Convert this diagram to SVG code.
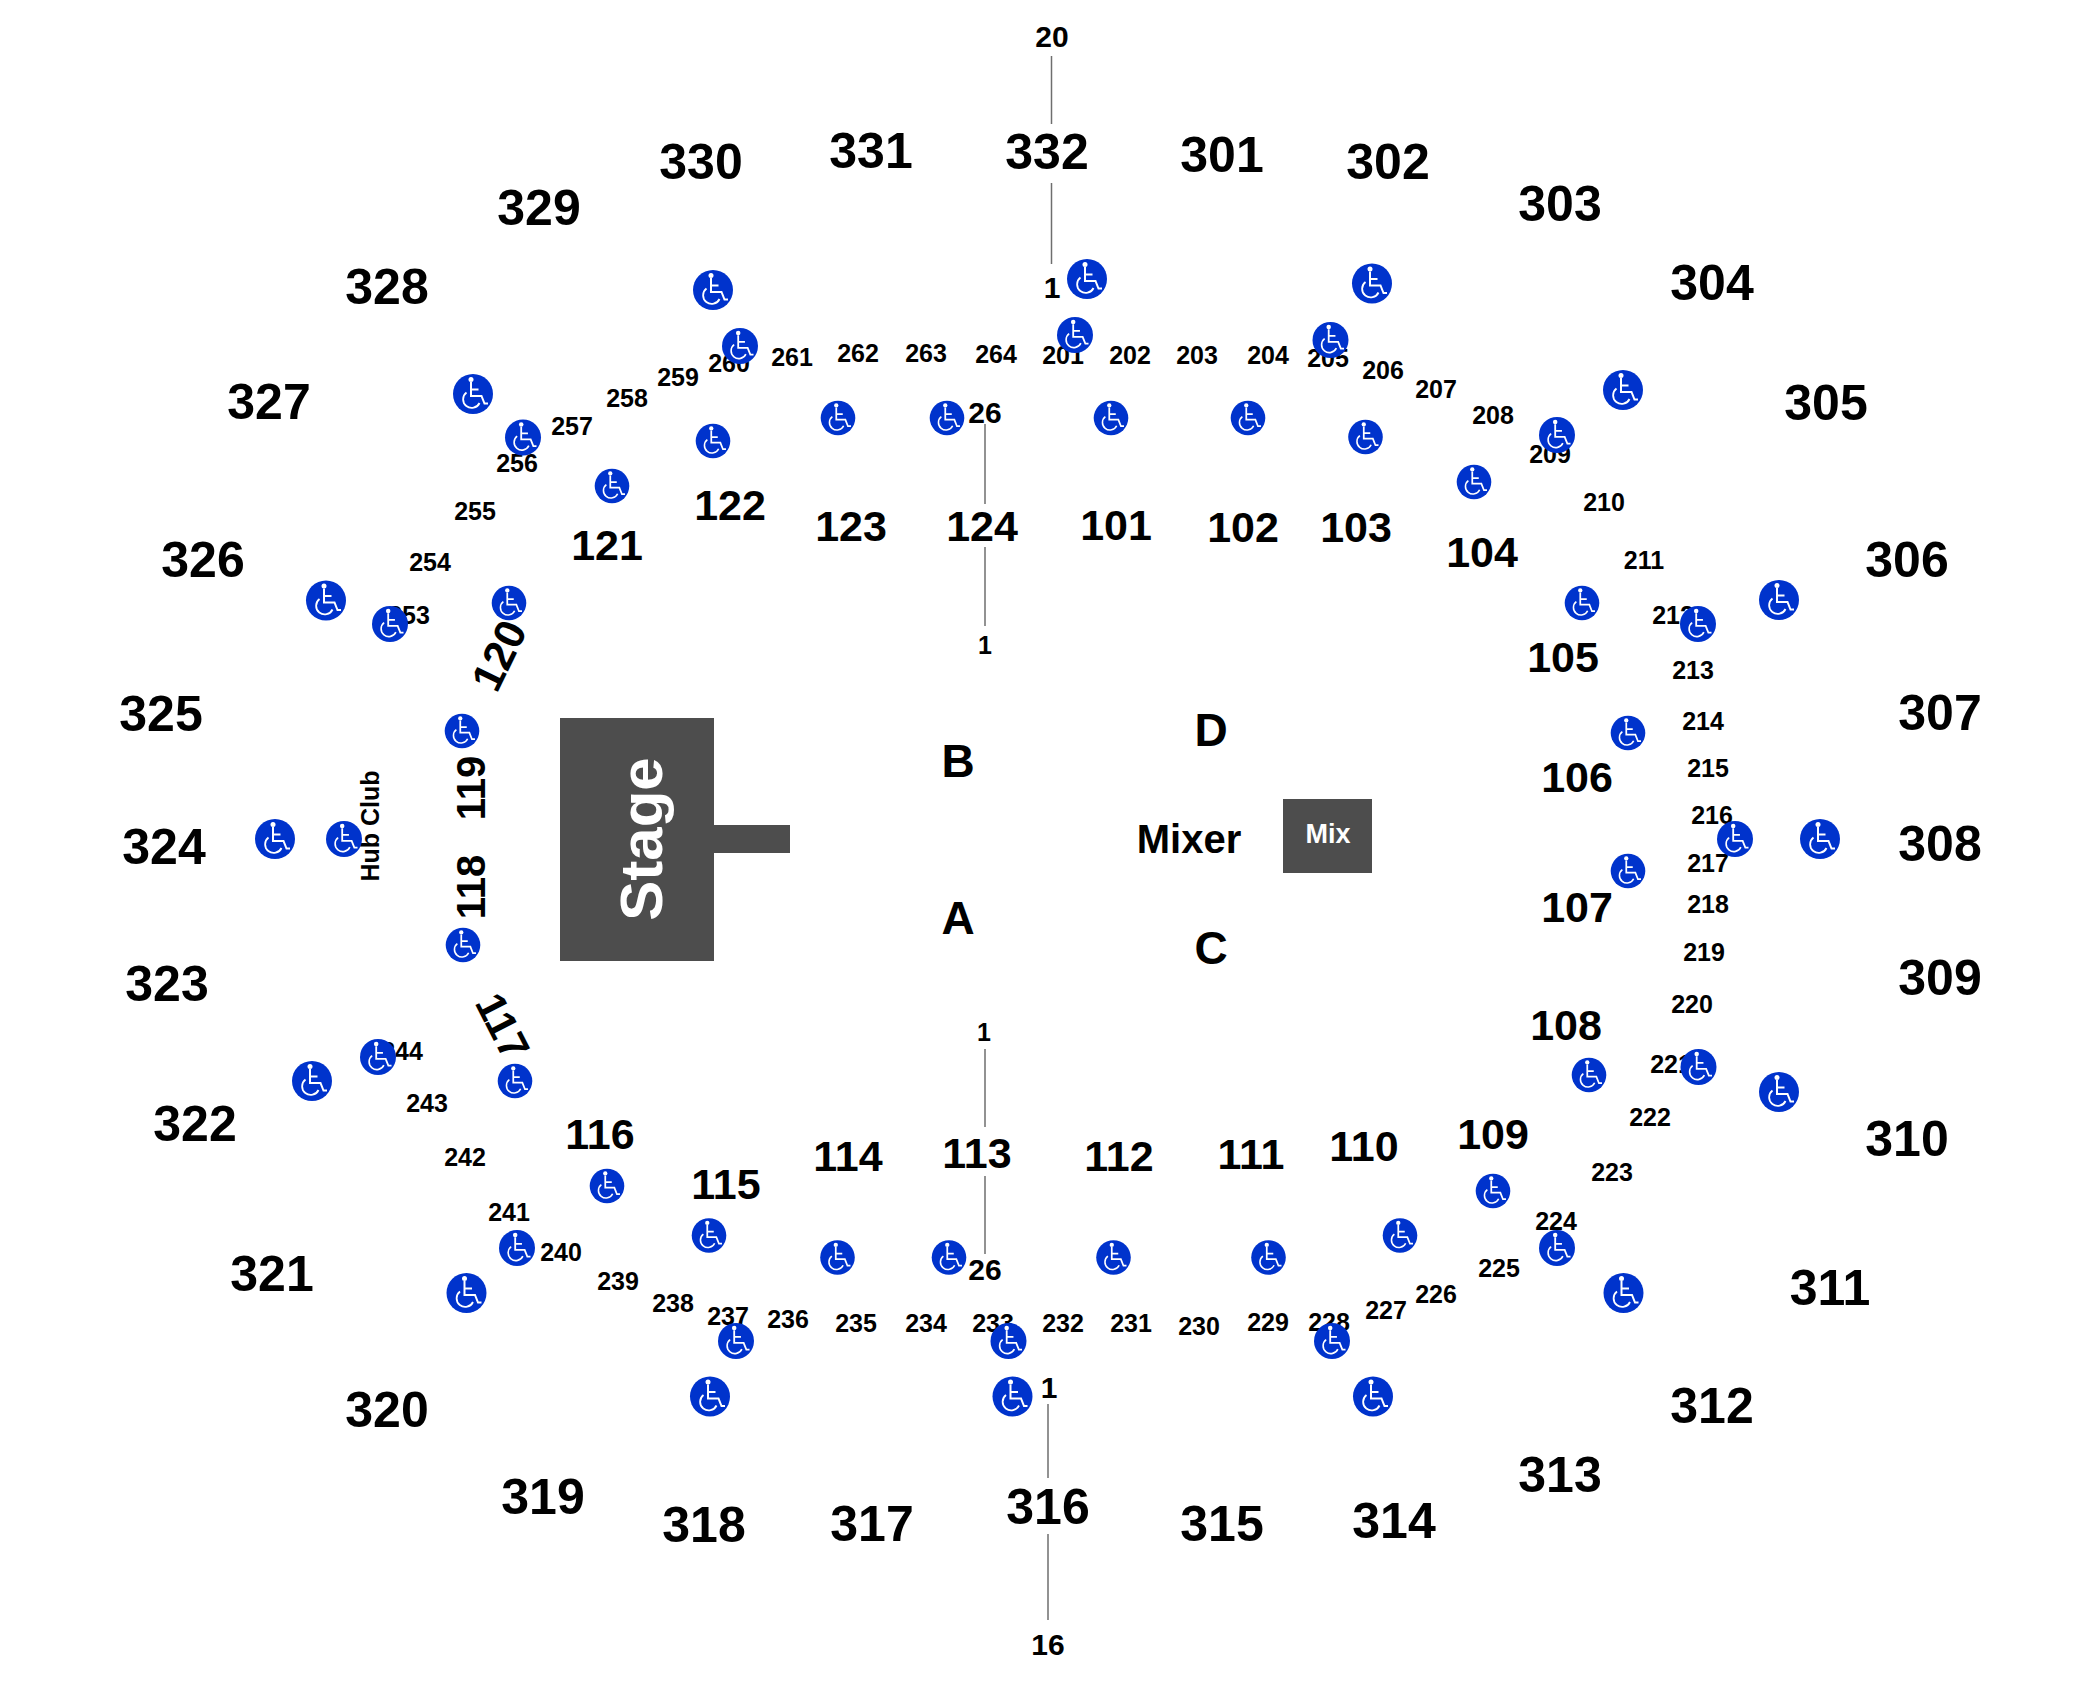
<svg xmlns="http://www.w3.org/2000/svg" xmlns:xlink="http://www.w3.org/1999/xlink" width="2100" height="1684" viewBox="0 0 2100 1684">
<style>
text{font-family:"Liberation Sans",Arial,sans-serif;font-weight:700;fill:#000;text-anchor:middle}
.u{font-size:50px}.s{font-size:43px}.l{font-size:46px}.c{font-size:25px}.r{font-size:30px}
line{stroke:#6e6e6e;stroke-width:1.5}
.d{fill:#4d4d4d}
</style>
<defs>
<g id="wc"><circle r="20" fill="#0033cc"/><circle cx="-2" cy="-14.5" r="2.5" fill="#fff"/><path d="M-2-12V2H8.5L11.5 9.5H15M-2-4.5H5.5" fill="none" stroke="#fff" stroke-width="2"/><path d="M-6.500-1.500A8.600 8.600 0 1 0 6.500 9" fill="none" stroke="#fff" stroke-width="1.800"/></g>
</defs>
<rect width="2100" height="1684" fill="#fff"/>
<g id="connectors">
<line x1="1051.5" y1="56" x2="1051.5" y2="124"/><line x1="1051.5" y1="183" x2="1051.5" y2="264"/>
<line x1="985" y1="424" x2="985" y2="504"/><line x1="985" y1="547" x2="985" y2="626"/>
<line x1="985" y1="1049" x2="985" y2="1127"/><line x1="985" y1="1176" x2="985" y2="1254"/>
<line x1="1048" y1="1404" x2="1048" y2="1478"/><line x1="1048" y1="1534" x2="1048" y2="1620"/>
</g>
<g id="stage"><rect class="d" x="560" y="718" width="154" height="243"/><rect class="d" x="714" y="825" width="76" height="28"/><text transform="translate(662 839) rotate(-90)" style="font-size:60px;fill:#fff">Stage</text></g>
<g id="mix"><rect class="d" x="1283" y="799" width="89" height="74"/><text x="1328" y="843" style="font-size:27px;fill:#fff">Mix</text></g>
<g id="upper-sections" transform="translate(0 -1)">
<text class="u" x="1047" y="170">332</text><text class="u" x="1222" y="173">301</text><text class="u" x="1388" y="180">302</text><text class="u" x="1560" y="222">303</text><text class="u" x="1712" y="301">304</text><text class="u" x="1826" y="421">305</text><text class="u" x="1907" y="578">306</text><text class="u" x="1940" y="731">307</text><text class="u" x="1940" y="862">308</text><text class="u" x="1940" y="996">309</text><text class="u" x="1907" y="1157">310</text><text class="u" x="1830" y="1306">311</text><text class="u" x="1712" y="1424">312</text><text class="u" x="1560" y="1493">313</text><text class="u" x="1394" y="1539">314</text><text class="u" x="1222" y="1542">315</text><text class="u" x="1048" y="1525">316</text><text class="u" x="872" y="1542">317</text><text class="u" x="704" y="1543">318</text><text class="u" x="543" y="1515">319</text><text class="u" x="387" y="1428">320</text><text class="u" x="272" y="1292">321</text><text class="u" x="195" y="1142">322</text><text class="u" x="167" y="1002">323</text><text class="u" x="164" y="865">324</text><text class="u" x="161" y="732">325</text><text class="u" x="203" y="578">326</text><text class="u" x="269" y="420">327</text><text class="u" x="387" y="305">328</text><text class="u" x="539" y="226">329</text><text class="u" x="701" y="180">330</text><text class="u" x="871" y="169">331</text>
</g>
<g id="lower-sections">
<text class="s" x="1116" y="540">101</text><text class="s" x="1243" y="542">102</text><text class="s" x="1356" y="542">103</text><text class="s" x="1482" y="567">104</text><text class="s" x="1563" y="672">105</text><text class="s" x="1577" y="792">106</text><text class="s" x="1577" y="922">107</text><text class="s" x="1566" y="1040">108</text><text class="s" x="1493" y="1149">109</text><text class="s" x="1364" y="1161">110</text><text class="s" x="1251" y="1169">111</text><text class="s" x="1119" y="1171">112</text><text class="s" x="977" y="1168">113</text><text class="s" x="848" y="1171">114</text><text class="s" x="726" y="1199">115</text><text class="s" x="600" y="1149">116</text>
<text transform="translate(503 1026) rotate(63)" y="15" style="font-size:42px">117</text><text transform="translate(470 887) rotate(-90)" y="15" style="font-size:40px">118</text><text transform="translate(470 788) rotate(-90)" y="15" style="font-size:40px">119</text><text transform="translate(498 655) rotate(-64)" y="16" style="font-size:43px">120</text>
<text class="s" x="607" y="560">121</text><text class="s" x="730" y="520">122</text><text class="s" x="851" y="541">123</text><text class="s" x="982" y="541">124</text>
</g>
<g id="club-sections" transform="translate(0 1)">
<text class="c" x="1063" y="363">201</text><text class="c" x="1130" y="363">202</text><text class="c" x="1197" y="363">203</text><text class="c" x="1268" y="363">204</text><text class="c" x="1328" y="366">205</text><text class="c" x="1383" y="378">206</text><text class="c" x="1436" y="397">207</text><text class="c" x="1493" y="423">208</text><text class="c" x="1550" y="462">209</text><text class="c" x="1604" y="510">210</text><text class="c" x="1644" y="568">211</text><text class="c" x="1673" y="623">212</text><text class="c" x="1693" y="678">213</text><text class="c" x="1703" y="729">214</text><text class="c" x="1708" y="776">215</text><text class="c" x="1712" y="823">216</text><text class="c" x="1708" y="871">217</text><text class="c" x="1708" y="912">218</text><text class="c" x="1704" y="960">219</text><text class="c" x="1692" y="1012">220</text><text class="c" x="1671" y="1072">221</text><text class="c" x="1650" y="1125">222</text><text class="c" x="1612" y="1180">223</text><text class="c" x="1556" y="1229">224</text><text class="c" x="1499" y="1276">225</text><text class="c" x="1436" y="1302">226</text><text class="c" x="1386" y="1318">227</text><text class="c" x="1329" y="1330">228</text><text class="c" x="1268" y="1330">229</text><text class="c" x="1199" y="1334">230</text><text class="c" x="1131" y="1331">231</text><text class="c" x="1063" y="1331">232</text><text class="c" x="993" y="1331">233</text><text class="c" x="926" y="1331">234</text><text class="c" x="856" y="1331">235</text><text class="c" x="788" y="1327">236</text><text class="c" x="728" y="1324">237</text><text class="c" x="673" y="1311">238</text><text class="c" x="618" y="1289">239</text><text class="c" x="561" y="1260">240</text><text class="c" x="509" y="1220">241</text><text class="c" x="465" y="1165">242</text><text class="c" x="427" y="1111">243</text><text class="c" x="402" y="1059">244</text><text class="c" x="409" y="623">253</text><text class="c" x="430" y="570">254</text><text class="c" x="475" y="519">255</text><text class="c" x="517" y="471">256</text><text class="c" x="572" y="434">257</text><text class="c" x="627" y="406">258</text><text class="c" x="678" y="385">259</text><text class="c" x="729" y="371">260</text><text class="c" x="792" y="365">261</text><text class="c" x="858" y="361">262</text><text class="c" x="926" y="361">263</text><text class="c" x="996" y="362">264</text>
</g>
<g id="row-labels">
<text class="r" x="1052" y="47">20</text><text class="r" x="1052" y="298">1</text><text class="r" x="985" y="423">26</text><text class="c" x="985" y="654">1</text><text class="c" x="984" y="1041">1</text><text class="r" x="985" y="1280">26</text><text class="r" x="1049" y="1398">1</text><text class="r" x="1048" y="1655">16</text>
</g>
<g id="floor-labels">
<text class="l" x="958" y="777">B</text><text class="l" x="958" y="934">A</text><text class="l" x="1211" y="746">D</text><text class="l" x="1211" y="964">C</text><text x="1189" y="853" style="font-size:40px">Mixer</text><text transform="translate(379 826) rotate(-90)" style="font-size:25px">Hub Club</text>
</g>
<g id="accessible-upper">
<use href="#wc" x="1087" y="279"/><use href="#wc" x="1372" y="283.500"/><use href="#wc" x="1623" y="390"/><use href="#wc" x="1779" y="600"/><use href="#wc" x="1820" y="839"/><use href="#wc" x="1779" y="1092"/><use href="#wc" x="1623.500" y="1293"/><use href="#wc" x="1373" y="1396.500"/><use href="#wc" x="1012.500" y="1396.500"/><use href="#wc" x="710" y="1396.500"/><use href="#wc" x="466.500" y="1293"/><use href="#wc" x="312" y="1081"/><use href="#wc" x="275" y="839"/><use href="#wc" x="326" y="600.500"/><use href="#wc" x="473" y="394"/><use href="#wc" x="713" y="290"/>
</g>
<g id="accessible-club">
<use href="#wc" transform="translate(1075 335) scale(.9)"/><use href="#wc" transform="translate(1330.500 340) scale(.9)"/><use href="#wc" transform="translate(1557 435) scale(.9)"/><use href="#wc" transform="translate(1698 624) scale(.9)"/><use href="#wc" transform="translate(1735 839) scale(.9)"/><use href="#wc" transform="translate(1698.500 1067) scale(.9)"/><use href="#wc" transform="translate(1557 1248) scale(.9)"/><use href="#wc" transform="translate(1332 1341) scale(.9)"/><use href="#wc" transform="translate(1008.500 1341) scale(.9)"/><use href="#wc" transform="translate(736 1341) scale(.9)"/><use href="#wc" transform="translate(517 1248) scale(.9)"/><use href="#wc" transform="translate(378 1057) scale(.9)"/><use href="#wc" transform="translate(344 839) scale(.9)"/><use href="#wc" transform="translate(390 624) scale(.9)"/><use href="#wc" transform="translate(523 437.500) scale(.9)"/><use href="#wc" transform="translate(740 346) scale(.9)"/>
</g>
<g id="accessible-lower">
<use href="#wc" transform="translate(713 441) scale(.865)"/><use href="#wc" transform="translate(838 418) scale(.865)"/><use href="#wc" transform="translate(947 418) scale(.865)"/><use href="#wc" transform="translate(1111 418) scale(.865)"/><use href="#wc" transform="translate(1248 418) scale(.865)"/><use href="#wc" transform="translate(1365.500 437) scale(.865)"/><use href="#wc" transform="translate(1474 482) scale(.865)"/><use href="#wc" transform="translate(1582 603) scale(.865)"/><use href="#wc" transform="translate(1628 733) scale(.865)"/><use href="#wc" transform="translate(1628 871) scale(.865)"/><use href="#wc" transform="translate(1589 1075) scale(.865)"/><use href="#wc" transform="translate(1493 1191) scale(.865)"/><use href="#wc" transform="translate(1400 1235.500) scale(.865)"/><use href="#wc" transform="translate(1268.500 1257.500) scale(.865)"/><use href="#wc" transform="translate(1113.500 1257.500) scale(.865)"/><use href="#wc" transform="translate(949 1257.500) scale(.865)"/><use href="#wc" transform="translate(837.500 1257.500) scale(.865)"/><use href="#wc" transform="translate(709 1235.500) scale(.865)"/><use href="#wc" transform="translate(607 1186) scale(.865)"/><use href="#wc" transform="translate(515 1081) scale(.865)"/><use href="#wc" transform="translate(463 945) scale(.865)"/><use href="#wc" transform="translate(462 731) scale(.865)"/><use href="#wc" transform="translate(509 603) scale(.865)"/><use href="#wc" transform="translate(612 486) scale(.865)"/>
</g>
</svg>
